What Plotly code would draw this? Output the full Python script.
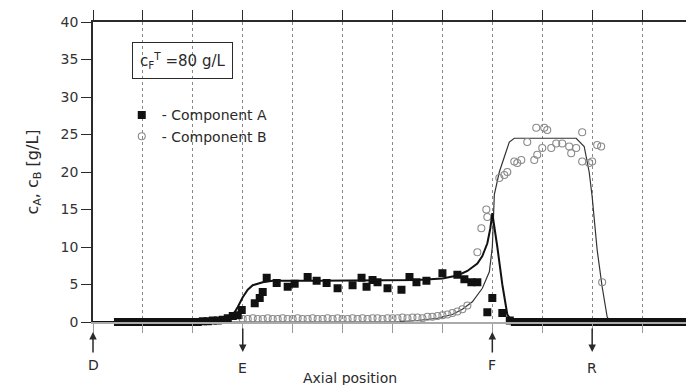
import plotly.graph_objects as go

# ---------------- data (x in grid units: D=0, E=3, F=8, R=10) ----------------
a_pts_x = [0.5, 0.6, 0.7, 0.8, 0.9, 1.0, 1.1, 1.2, 1.3, 1.4, 1.5, 1.6, 1.7, 1.8, 1.9,
           2.0, 2.1, 2.2, 2.3, 2.4, 2.5, 2.6, 2.7, 2.8, 2.9, 2.98, 3.24, 3.34, 3.4, 3.48,
           3.68, 3.9, 4.04, 4.3, 4.48, 4.68, 4.9, 5.2, 5.38, 5.48, 5.6, 5.7, 5.9, 6.18,
           6.34, 6.48, 6.68, 7.0, 7.3, 7.44, 7.58, 7.7, 7.9, 8.0, 8.2,
           8.35, 8.45, 8.55, 8.65, 8.75, 8.85, 8.95, 9.05, 9.15, 9.25, 9.35, 9.45, 9.55,
           9.65, 9.75, 9.85, 9.95, 10.05, 10.15, 10.25, 10.35, 10.45, 10.55, 10.65, 10.75,
           10.85, 10.95, 11.05, 11.15, 11.25, 11.35, 11.45, 11.55, 11.65, 11.75, 11.85, 11.95]
a_pts_y = [0, 0, 0, 0, 0, 0, 0, 0, 0, 0, 0, 0, 0, 0, 0,
           0, 0, 0.1, 0.1, 0.2, 0.2, 0.3, 0.5, 0.8, 0.9, 1.6, 2.5, 3.2, 4.0, 5.9,
           5.2, 4.7, 5.1, 6.0, 5.5, 5.2, 4.5, 4.9, 5.9, 4.7, 5.6, 5.3, 4.5, 4.3,
           6.0, 5.3, 5.5, 6.5, 6.3, 5.7, 5.3, 5.3, 1.3, 3.2, 1.2,
           0.2, 0, 0, 0, 0, 0, 0, 0, 0, 0, 0, 0, 0,
           0, 0, 0, 0, 0, 0, 0, 0, 0, 0, 0, 0,
           0, 0, 0, 0, 0, 0, 0, 0, 0, 0, 0, 0]

b_pts_x = [3.0, 3.1, 3.2, 3.3, 3.4, 3.5, 3.6, 3.7, 3.8, 3.9, 4.0, 4.1, 4.2, 4.3, 4.4,
           4.5, 4.6, 4.7, 4.8, 4.9, 5.0, 5.1, 5.2, 5.3, 5.4, 5.5, 5.6, 5.7, 5.8, 5.9,
           6.0, 6.1, 6.2, 6.3, 6.4, 6.5, 6.6, 6.7, 6.8, 6.9, 7.0, 7.1, 7.2, 7.3, 7.4,
           7.5, 7.7, 7.78, 7.88, 7.9, 8.14, 8.24, 8.3, 8.44, 8.5, 8.58, 8.7, 8.84, 8.9,
           8.88, 9.04, 9.1, 9.0, 9.18, 9.28, 9.4, 9.54, 9.58, 9.68, 9.8, 9.8, 9.94,
           10.0, 10.1, 10.18, 10.2]
b_pts_y = [0.4, 0.4, 0.5, 0.4, 0.4, 0.5, 0.4, 0.4, 0.5, 0.4, 0.4, 0.5, 0.4, 0.4, 0.5,
           0.4, 0.4, 0.5, 0.4, 0.5, 0.4, 0.4, 0.5, 0.4, 0.5, 0.4, 0.5, 0.5, 0.4, 0.5,
           0.5, 0.5, 0.6, 0.5, 0.6, 0.6, 0.5, 0.7, 0.7, 0.8, 0.9, 1.0, 1.2, 1.4, 1.7,
           2.2, 9.3, 12.5, 15.0, 14.0, 19.2, 19.6, 20.0, 21.4, 21.2, 21.6, 24.0, 21.6, 22.3,
           25.9, 25.9, 25.6, 23.2, 23.2, 23.8, 23.8, 23.4, 22.5, 23.2, 25.3, 21.4, 21.2,
           21.4, 23.6, 23.4, 5.3]

a_curve_x = [0, 2.4, 2.7, 2.8, 2.9, 3.0, 3.1, 3.2, 3.4, 3.6, 4.5, 5.5, 6.5, 7.0, 7.3,
             7.5, 7.7, 7.8, 7.9, 7.96, 8.0, 8.1, 8.2, 8.3, 8.4, 12]
a_curve_y = [0, 0, 0.3, 0.9, 2.0, 3.3, 4.3, 4.9, 5.3, 5.5, 5.5, 5.5, 5.6, 5.8, 6.2,
             6.8, 7.8, 8.8, 10.5, 12.5, 14.5, 10.0, 5.0, 1.0, 0, 0]

b_curve_x = [0, 6.0, 6.5, 6.9, 7.2, 7.4, 7.6, 7.8, 7.94, 8.0, 8.04, 8.14, 8.24, 8.34,
             8.44, 9.68, 9.84, 9.94, 10.0, 10.1, 10.2, 10.3, 10.36, 12]
b_curve_y = [0, 0, 0.2, 0.5, 1.0, 1.7, 2.7, 4.5, 6.7, 10.0, 17.0, 20.0, 22.0, 24.0,
             24.5, 24.5, 23.4, 20.0, 16.7, 9.6, 4.7, 0.7, 0, 0]

marker_pos = [0, 3, 8, 10]
marker_lbl = ["D", "E", "F", "R"]
marker_dir = ["up", "down", "up", "down"]
y_ticks = [0, 5, 10, 15, 20, 25, 30, 35, 40]
x_grid = [0, 1, 2, 3, 4, 5, 6, 7, 8, 9, 10, 11, 12]

FONT = "DejaVu Sans"
DARK = "#2a2a2a"

fig = go.Figure()
fig.add_trace(go.Scatter(x=b_curve_x, y=b_curve_y, mode="lines",
                         line=dict(color="#333", width=1.2), showlegend=False,
                         cliponaxis=False, hoverinfo="skip"))
fig.add_trace(go.Scatter(x=b_pts_x, y=b_pts_y, mode="markers", name="- Component B",
                         marker=dict(symbol="circle-open", size=7, color="#8a8a8a",
                                     line=dict(width=1.1, color="#8a8a8a")),
                         cliponaxis=False))
fig.add_trace(go.Scatter(x=a_pts_x, y=a_pts_y, mode="markers", name="- Component A",
                         marker=dict(symbol="square", size=8, color="#111"),
                         cliponaxis=False))
fig.add_trace(go.Scatter(x=a_curve_x, y=a_curve_y, mode="lines",
                         line=dict(color="#111", width=2), showlegend=False,
                         cliponaxis=False, hoverinfo="skip"))
# invisible trace to activate the top axis
fig.add_trace(go.Scatter(x=[0, 12], y=[40, 40], xaxis="x2", mode="lines",
                         line=dict(width=0), showlegend=False, hoverinfo="skip"))

# the page body adds an 8 px offset, so the plot box is placed 8 px up/left
fig.update_layout(
    width=694, height=385,
    margin=dict(l=85, r=10, t=14, b=71, autoexpand=False),
    paper_bgcolor="white", plot_bgcolor="white",
    font=dict(family=FONT, size=14, color=DARK),
    xaxis=dict(range=[0, 12], tickvals=x_grid, showticklabels=False, automargin=False,
               ticks="outside", ticklen=9, tickcolor="#999", tickwidth=1,
               showgrid=True, gridcolor="#888", griddash="dot", gridwidth=1,
               showline=True, linecolor="#aaa", linewidth=2, zeroline=False),
    xaxis2=dict(range=[0, 12], tickvals=x_grid, showticklabels=False, automargin=False,
                overlaying="x", side="top", anchor="y",
                ticks="outside", ticklen=10, tickcolor=DARK, tickwidth=1,
                showgrid=False, showline=True, linecolor=DARK, linewidth=1.5,
                zeroline=False),
    yaxis=dict(range=[0, 40], tickvals=y_ticks, ticks="outside", ticklen=10,
               automargin=False,
               tickcolor=DARK, tickwidth=1, showline=True, linecolor=DARK,
               linewidth=1.5, mirror=True, showgrid=False, zeroline=False,
               tickfont=dict(size=14, color="#333"),
               title=dict(text="c<sub>A</sub>, c<sub>B</sub> [g/L]",
                          font=dict(size=16, color=DARK), standoff=18)),
    legend=dict(x=0.048, y=0.742, xanchor="left", yanchor="top",
                bgcolor="rgba(0,0,0,0)", font=dict(size=14, color=DARK),
                itemwidth=30, tracegroupgap=0, traceorder="reversed"),
    showlegend=True,
)

annotations = [
    dict(text="c<sub>F</sub><sup>T</sup> =80 g/L", xref="paper", yref="paper",
         x=0.149, y=0.872, xanchor="center", yanchor="middle", showarrow=False,
         bordercolor=DARK, borderwidth=1, borderpad=7, font=dict(size=15, color=DARK)),
    dict(text="Axial position", xref="paper", yref="paper", x=0.429, y=-0.187,
         xanchor="center", yanchor="middle",
         showarrow=False, font=dict(size=14, color=DARK)),
]
for pos, lbl, d in zip(marker_pos, marker_lbl, marker_dir):
    if d == "up":
        # label sits at the tail of the upward arrow
        annotations.append(dict(text=lbl, xref="x", yref="paper", x=pos, y=-0.033,
                                ax=0, ay=33, showarrow=True, arrowhead=2,
                                arrowsize=1, arrowwidth=1.5, arrowcolor=DARK,
                                standoff=0, borderpad=4,
                                font=dict(size=14, color=DARK)))
    else:
        annotations.append(dict(text=lbl, xref="x", yref="paper", x=pos, y=-0.153,
                                xanchor="center", yanchor="middle",
                                showarrow=False, font=dict(size=14, color=DARK)))
        annotations.append(dict(text="", xref="x", yref="paper", x=pos, y=-0.1,
                                ax=0, ay=-25, showarrow=True, arrowhead=2,
                                arrowsize=1, arrowwidth=1.5, arrowcolor=DARK))
fig.update_layout(annotations=annotations)

fig.write_html("out.html")
